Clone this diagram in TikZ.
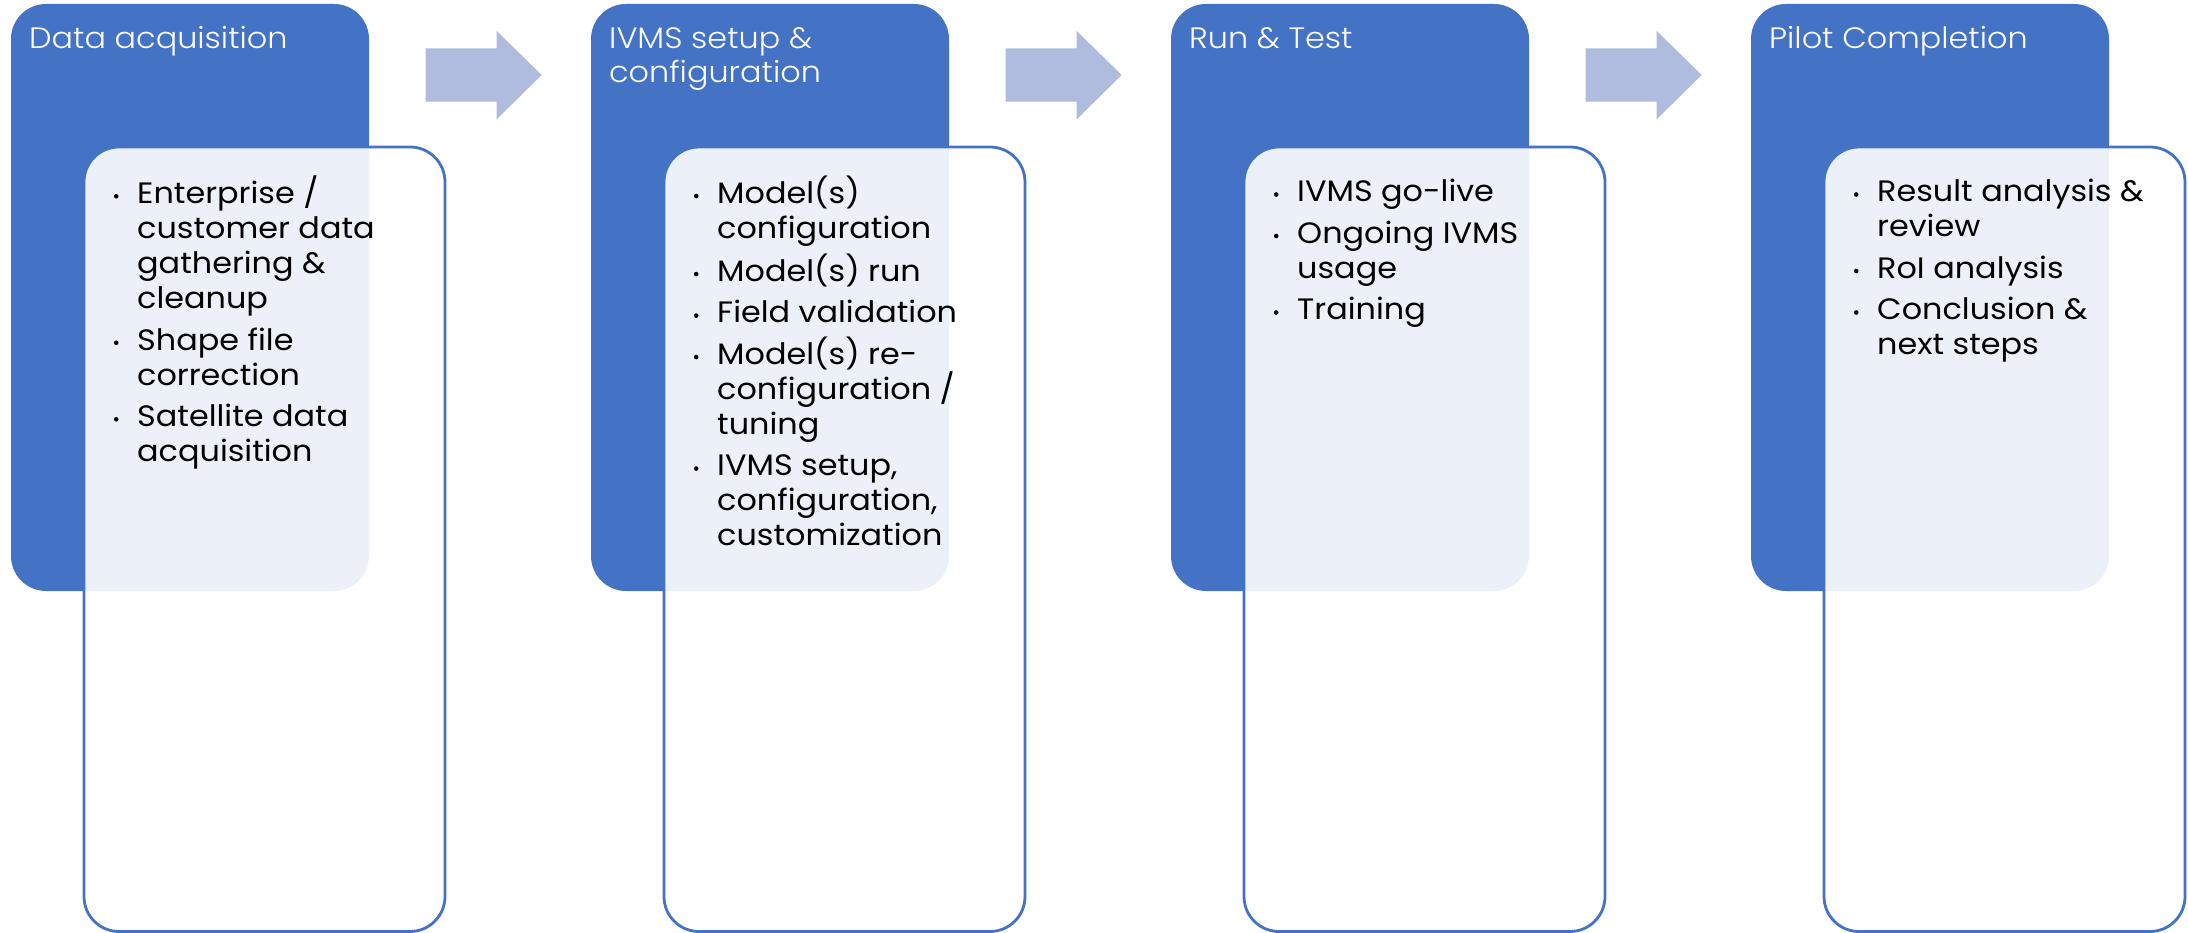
\documentclass[tikz,border=0pt]{standalone}
\usepackage{fontspec}
\setmainfont{Poppins}[FakeStretch=1.08]
\newfontfamily\titlefont{Poppins}[UprightFont=* Light, FakeStretch=1.08]
\definecolor{accent}{RGB}{68,114,196}
\definecolor{arrowc}{RGB}{175,188,222}
\newcommand\bdot{\makebox[0pt][r]{\raisebox{5.1pt}{\tikz\fill (0,0) circle (2.3pt);}\hspace{18.7pt}}}
\newcommand\topstrut{\rule{0pt}{26pt}}
\tikzset{
  darkbox/.style={fill=accent, draw=none, rounded corners=35pt},
  lightbox/.style={fill=white, fill opacity=0.9, draw=accent, line width=2.8pt, rounded corners=35pt},
  arrowshape/.style={fill=arrowc, draw=none},
  titletext/.style={anchor=north west, inner sep=0pt, text=white, align=left, font=\titlefont\fontsize{29.5pt}{34pt}\selectfont},
  bodytext/.style={anchor=north west, inner sep=0pt, text=black, align=left, font=\fontsize{29.5pt}{35pt}\selectfont}
}
\begin{document}
\begin{tikzpicture}[x=1pt, y=-1pt]
\useasboundingbox (0,0) rectangle (2188,933);
% boxes
\foreach \k in {0,1,2,3}{
  \begin{scope}[xshift=\k*580pt]
    \path[darkbox] (11,4) rectangle (369,591);
    \path[lightbox] (84,147) rectangle (445,931.5);
  \end{scope}
}
% arrows
\foreach \k in {0,1,2}{
  \begin{scope}[xshift=\k*580pt]
    \path[arrowshape] (425.7,48.3) -- (496.7,48.3) -- (496.7,31) -- (541.7,75) -- (496.7,119.3) -- (496.7,101.7) -- (425.7,101.7) -- cycle;
  \end{scope}
}
% titles (first baseline at y=48)
\node[titletext] (t1) at (29,22) {\topstrut Data acquisition};
\node[titletext] (t2) at (609,22) {\topstrut IVMS setup \&\\configuration};
\node[titletext] (t3) at (1189,22) {\topstrut Run \& Test};
\node[titletext] (t4) at (1769,22) {\topstrut Pilot Completion};
% bodies (first baseline at y=201.7)
\node[bodytext] (b1) at (137,175.7) {\topstrut\bdot Enterprise /\\customer data\\gathering \&\\cleanup\\[6.5pt]\bdot Shape file\\correction\\[6.5pt]\bdot Satellite data\\acquisition};
\node[bodytext] (b2) at (717,175.7) {\topstrut\bdot Model(s)\\configuration\\[6.5pt]\bdot Model(s) run\\[6.5pt]\bdot Field validation\\[6.5pt]\bdot Model(s) re-\\configuration /\\tuning\\[6.5pt]\bdot IVMS setup,\\configuration,\\customization};
\node[bodytext] (b3) at (1297,175.7) {\topstrut\bdot IVMS go-live\\[6.5pt]\bdot Ongoing IVMS\\usage\\[6.5pt]\bdot Training};
\node[bodytext] (b4) at (1877,175.7) {\topstrut\bdot Result analysis \&\\review\\[6.5pt]\bdot RoI analysis\\[6.5pt]\bdot Conclusion \&\\next steps};
\end{tikzpicture}
\end{document}
